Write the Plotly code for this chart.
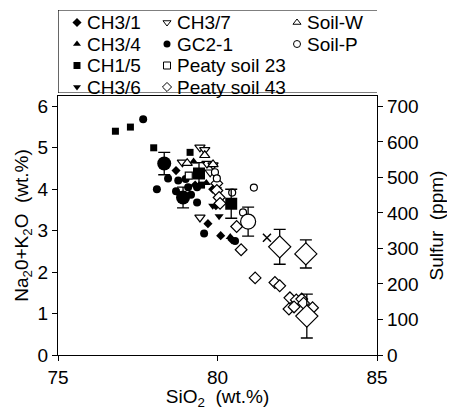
import plotly.graph_objects as go

# ---- data (SiO2 wt.%, Na2O+K2O wt.%) ----
CH3_1_X = [78.7, 79.3, 79.85, 79.95, 79.7, 80.1, 80.45]
CH3_1_Y = [4.45, 4.1, 4.0, 3.6, 3.17, 2.88, 2.78]

CH3_4_X = [79.25, 79.65, 80.4]
CH3_4_Y = [4.67, 4.15, 2.85]

CH1_5_X = [76.8, 77.27, 78.0, 79.14, 79.5]
CH1_5_Y = [5.4, 5.5, 5.0, 4.89, 4.1]
CH1_5_BIG_X = [79.42, 80.43]
CH1_5_BIG_Y = [4.38, 3.65]
CH1_5_BIG_ERR = [0.26, 0.35]

CH3_6_X = [80.05, 79.85, 80.0]
CH3_6_Y = [3.35, 3.6, 4.0]

CH3_7_X = [79.45, 78.9, 79.67, 79.77, 79.86, 79.45, 79.6]
CH3_7_Y = [5.01, 4.65, 4.62, 4.41, 4.58, 3.32, 4.95]

GC2_1_X = [77.67, 78.1, 78.45, 78.7, 78.77, 79.08, 79.17, 79.36, 79.36, 79.58, 80.55, 79.0]
GC2_1_Y = [5.69, 4.0, 4.26, 3.95, 4.21, 4.05, 3.87, 4.05, 3.68, 2.93, 2.75, 4.25]
GC2_1_BIG_X = [78.33, 78.92]
GC2_1_BIG_Y = [4.62, 3.8]
GC2_1_BIG_ERR = [0.27, 0.25]

PEATY23_X = [79.1]
PEATY23_Y = [4.33]

PEATY43_X = [79.98, 79.98, 80.05, 80.08, 80.6, 80.74, 81.18, 81.8, 81.95,
             82.27, 82.47, 82.64, 82.24, 82.4, 82.98, 82.7]
PEATY43_Y = [4.14, 3.97, 3.8, 3.66, 3.1, 2.54, 1.86, 1.75, 1.67,
             1.38, 1.33, 1.35, 1.11, 1.16, 1.14, 1.25]
PEATY43_BIG_X = [81.95, 82.77, 82.8]
PEATY43_BIG_Y = [2.61, 2.44, 0.94]
PEATY43_BIG_ERR = [0.42, 0.34, 0.53]

SOIL_W_X = [79.6, 79.05, 79.86]
SOIL_W_Y = [4.82, 4.63, 4.6]

SOIL_P_X = [79.92, 79.98, 80.46, 80.8, 81.14]
SOIL_P_Y = [4.41, 4.26, 3.92, 3.44, 4.04]
SOIL_P_BIG_X = [80.96]
SOIL_P_BIG_Y = [3.22]
SOIL_P_BIG_ERR = [0.35]

CROSS_X = [81.55]
CROSS_Y = [2.83]

# legend layout: three columns, names top to bottom
LEGEND_COLUMNS = [
    ["CH3/1", "CH3/4", "CH1/5", "CH3/6"],
    ["CH3/7", "GC2-1", "Peaty soil 23", "Peaty soil 43"],
    ["Soil-W", "Soil-P"],
]

X_TICKS = [75, 80, 85]
Y_TICKS = [0, 1, 2, 3, 4, 5, 6]
S_TICKS = [0, 100, 200, 300, 400, 500, 600, 700]

# marker style per series: symbol, filled, size
STYLE = {
    "CH3/1": ("diamond", True, 7),
    "CH3/4": ("triangle-up", True, 8),
    "CH1/5": ("square", True, 7),
    "CH3/6": ("triangle-down", True, 8),
    "CH3/7": ("triangle-down", False, 9),
    "GC2-1": ("circle", True, 8),
    "Peaty soil 23": ("square", False, 7),
    "Peaty soil 43": ("diamond", False, 9),
    "Soil-W": ("triangle-up", False, 9),
    "Soil-P": ("circle", False, 7),
}

FONT = "Liberation Sans, Arial, sans-serif"
INK = "black"
# the page body adds an 8px margin, so the figure is sized to fill the rest
W, H = 447, 402
M_L, M_R, M_T, M_B = 50, 78, 0, 55
PLOT_TOP_PX = 88          # top edge of the data frame
BOX_TOP_PX, BOX_BOT_PX = 2, 85
Y_TOP = 6.25
S_TOP = Y_TOP * 700 / 6.0

inner_h = H - M_T - M_B
bottom_px = H - M_B


def dom(px):
    return (bottom_px - px) / inner_h


def marker_for(name, size=None, lw=1.2):
    symbol, filled, s = STYLE[name]
    return dict(symbol=symbol, size=size or s,
                color=INK if filled else "white",
                line=dict(color=INK, width=0 if filled else lw))


def pts(x, y, name, size=None, err=None):
    tr = go.Scatter(x=x, y=y, mode="markers", name=name, marker=marker_for(name, size),
                    showlegend=False, cliponaxis=False, hoverinfo="x+y+name")
    if err is not None:
        tr.error_y = dict(type="data", array=err, visible=True, color=INK,
                          thickness=1.3, width=6)
    return tr


fig = go.Figure()

fig.add_trace(pts(CH3_1_X, CH3_1_Y, "CH3/1"))
fig.add_trace(pts(CH3_4_X, CH3_4_Y, "CH3/4"))
fig.add_trace(pts(CH1_5_X, CH1_5_Y, "CH1/5"))
fig.add_trace(pts(CH3_6_X, CH3_6_Y, "CH3/6"))
fig.add_trace(pts(CH3_7_X, CH3_7_Y, "CH3/7"))
fig.add_trace(pts(GC2_1_X, GC2_1_Y, "GC2-1"))
fig.add_trace(pts(PEATY23_X, PEATY23_Y, "Peaty soil 23"))
fig.add_trace(pts(PEATY43_X, PEATY43_Y, "Peaty soil 43"))
fig.add_trace(pts(SOIL_W_X, SOIL_W_Y, "Soil-W"))
fig.add_trace(pts(SOIL_P_X, SOIL_P_Y, "Soil-P"))

# mean values with error bars
fig.add_trace(pts(CH1_5_BIG_X, CH1_5_BIG_Y, "CH1/5", size=12, err=CH1_5_BIG_ERR))
fig.add_trace(pts(GC2_1_BIG_X, GC2_1_BIG_Y, "GC2-1", size=14, err=GC2_1_BIG_ERR))
fig.add_trace(pts(PEATY43_BIG_X, PEATY43_BIG_Y, "Peaty soil 43", size=17, err=PEATY43_BIG_ERR))
fig.add_trace(pts(SOIL_P_BIG_X, SOIL_P_BIG_Y, "Soil-P", size=15, err=SOIL_P_BIG_ERR))
fig.add_trace(go.Scatter(x=CROSS_X, y=CROSS_Y, mode="markers", showlegend=False,
                         marker=dict(symbol="x-thin", size=8, line=dict(color=INK, width=1.5))))

# right axis carrier (no visible marks)
fig.add_trace(go.Scatter(x=[None], y=[None], yaxis="y2", showlegend=False, hoverinfo="skip"))

# hand-built legend on its own hidden axes (pixel coordinates)
COL_X = [69, 159, 289]
ROW_Y0, ROW_DY = 14.5, 21.5
annotations = []
for col, names in enumerate(LEGEND_COLUMNS):
    for row, name in enumerate(names):
        ly = ROW_Y0 + row * ROW_DY
        fig.add_trace(go.Scatter(x=[COL_X[col]], y=[ly], xaxis="x2", yaxis="y3",
                                 mode="markers", marker=marker_for(name, 7, 1.0),
                                 showlegend=False, hoverinfo="skip"))
        annotations.append(dict(x=COL_X[col], y=ly, xref="x2", yref="y3", text=name,
                                showarrow=False, xanchor="left", yanchor="middle",
                                xshift=8, font=dict(family=FONT, size=19, color=INK)))

axis_common = dict(showgrid=False, zeroline=False, showline=True, linecolor=INK,
                   linewidth=1.2, ticks="outside", ticklen=5, tickwidth=1.2,
                   tickcolor=INK, automargin=False,
                   tickfont=dict(family=FONT, size=19, color=INK))
hidden = dict(visible=False, showgrid=False, zeroline=False, fixedrange=True)

fig.update_layout(
    width=W, height=H,
    margin=dict(l=M_L, r=M_R, t=M_T, b=M_B, autoexpand=False),
    paper_bgcolor="white", plot_bgcolor="white",
    font=dict(family=FONT, size=19, color=INK),
    showlegend=False,
    xaxis=dict(axis_common, range=[75, 85], tickvals=X_TICKS, mirror=True,
               anchor="y",
               title=dict(text="SiO<sub>2</sub>  (wt.%)", font=dict(family=FONT, size=19),
                          standoff=2)),
    yaxis=dict(axis_common, range=[0, Y_TOP], tickvals=Y_TICKS,
               domain=[0, dom(PLOT_TOP_PX)],
               title=dict(text="Na<sub>2</sub>0+K<sub>2</sub>O  (wt.%)",
                          font=dict(family=FONT, size=19), standoff=3)),
    yaxis2=dict(axis_common, range=[0, S_TOP], tickvals=S_TICKS, overlaying="y",
                side="right", anchor="x",
                title=dict(text="Sulfur  (ppm)", font=dict(family=FONT, size=19),
                           standoff=12)),
    xaxis2=dict(hidden, range=[M_L, W - M_R], anchor="y3"),
    yaxis3=dict(hidden, range=[BOX_BOT_PX, BOX_TOP_PX], anchor="x2",
                domain=[dom(BOX_BOT_PX), dom(BOX_TOP_PX)]),
    annotations=annotations,
    shapes=[dict(type="rect", xref="x2", yref="y3",
                 x0=50, x1=370, y0=BOX_BOT_PX, y1=BOX_TOP_PX,
                 line=dict(color=INK, width=1.2), fillcolor="rgba(0,0,0,0)")],
)

fig.write_html("out.html")
